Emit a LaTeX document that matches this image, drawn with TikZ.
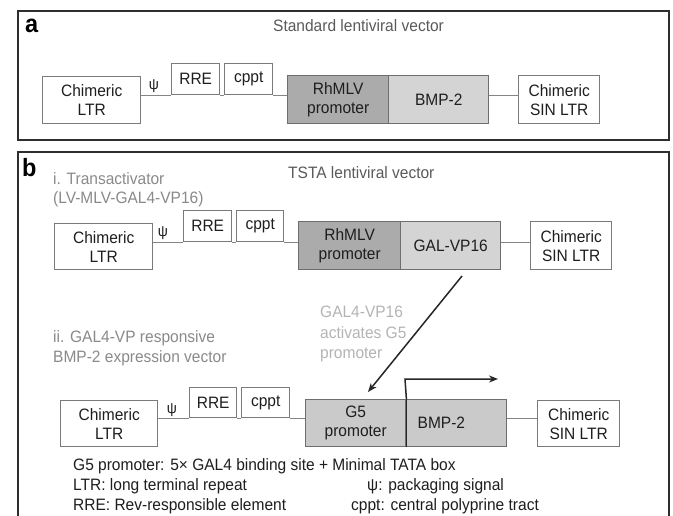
\documentclass[tikz,border=0pt]{standalone}
\usepackage{fontspec}
\setmainfont{Liberation Sans}[FakeStretch=0.94]
\usetikzlibrary{arrows.meta}
\definecolor{framec}{HTML}{2E2E2E}
\definecolor{boxc}{HTML}{7A7A7A}
\definecolor{linec}{HTML}{858585}
\definecolor{darkfill}{HTML}{ABABAB}
\definecolor{lightfill}{HTML}{D4D4D4}
\definecolor{midfill}{HTML}{CACACA}
\definecolor{titlec}{HTML}{5A5A5A}
\definecolor{subc}{HTML}{8A8A8A}
\definecolor{faintc}{HTML}{B4B4B4}
\definecolor{txtc}{HTML}{1E1E1E}
\tikzset{
  panelframe/.style={draw=framec, line width=2.6pt},
  elem/.style={draw=boxc, line width=1.4pt, fill=white, align=center, inner sep=0pt,
    anchor=north west, text=txtc, font=\fontsize{16.5}{19}\selectfont},
  sz/.style 2 args={minimum width=#1, minimum height=#2},
  darkel/.style={elem, fill=darkfill, draw=boxc!90!black},
  lightel/.style={elem, fill=lightfill, draw=boxc!90!black},
  midel/.style={elem, fill=midfill, draw=boxc!90!black},
  wire/.style={draw=linec, line width=1.6pt},
  psilbl/.style={text=txtc, font=\fontsize{15}{18}\selectfont, inner sep=0pt},
  titletxt/.style={text=titlec, anchor=base west, inner sep=0pt, font=\fontsize{16.5}{19}\selectfont},
  subtxt/.style={text=subc, anchor=base west, inner sep=0pt, font=\fontsize{16.5}{19}\selectfont},
  fainttxt/.style={text=faintc, anchor=base west, inner sep=0pt, font=\fontsize{16.5}{19}\selectfont},
  legtxt/.style={text=txtc, anchor=base west, inner sep=0pt, font=\fontsize{16.5}{19}\selectfont},
  panellbl/.style={text=black, anchor=base west, inner sep=0pt, font=\fontsize{25}{28}\selectfont\bfseries},
  actarrow/.style={draw=black!85, line width=1.5pt, -{Stealth[length=9pt,width=7pt]}},
}
\begin{document}
\begin{tikzpicture}[x=1pt,y=-1pt]
\useasboundingbox (0,0) rectangle (673,516);
\fill[white] (0,0) rectangle (673,516);

% ---------- panel a ----------
\draw[panelframe] (18,11) rectangle (669,140);
\node[panellbl] (la) at (25,33) {a};
\node[titletxt] (ta) at (273,32) {Standard lentiviral vector};

\node[elem, sz={98}{47}] (ltrA) at (42,76) {Chimeric\\LTR};
\node[elem, sz={48}{31}] (rreA) at (171,63) {RRE};
\node[elem, sz={48}{31}] (cpptA) at (224,63) {cppt};
\node[darkel, sz={101}{48}] (promA) at (287,75) {RhMLV\\promoter};
\node[lightel, sz={100}{48}] (bmpA) at (388,75) {BMP-2};
\node[elem, sz={81}{48}] (sinA) at (518,75) {Chimeric\\SIN LTR};
\node[psilbl] (psiA) at (154,86) {ψ};
\draw[wire] (ltrA.east |- rreA.south) -- (rreA.south west);
\draw[wire] (rreA.south east) -- (cpptA.south west);
\draw[wire] (cpptA.south east) -- (promA.west |- cpptA.south);
\draw[wire] (bmpA.east |- cpptA.south) -- (sinA.west |- cpptA.south);

% ---------- panel b ----------
\draw[panelframe] (18,530) -- (18,152) -- (669,152) -- (669,530);
\node[panellbl] (lb) at (22,177) {b};
\node[titletxt] (tb) at (288,179) {TSTA lentiviral vector};
\node[subtxt] (s1) at (53,185) {i. Transactivator};
\node[subtxt] (s2) at (53,204) {(LV-MLV-GAL4-VP16)};

\node[elem, sz={98}{46}] (ltrB) at (54,223) {Chimeric\\LTR};
\node[elem, sz={48}{31}] (rreB) at (183,210) {RRE};
\node[elem, sz={47}{31}] (cpptB) at (236,210) {cppt};
\node[darkel, sz={102}{48}] (promB) at (298,221) {RhMLV\\promoter};
\node[lightel, sz={100}{48}] (galB) at (400,221) {GAL-VP16};
\node[elem, sz={81}{48}] (sinB) at (530,221) {Chimeric\\SIN LTR};
\node[psilbl] (psiB) at (163,233) {ψ};
\draw[wire] (ltrB.east |- rreB.south) -- (rreB.south west);
\draw[wire] (rreB.south east) -- (cpptB.south west);
\draw[wire] (cpptB.south east) -- (promB.west |- cpptB.south);
\draw[wire] (galB.east |- cpptB.south) -- (sinB.west |- cpptB.south);

% activation text and arrow
\node[fainttxt] (f1) at (320,317) {GAL4-VP16};
\node[fainttxt] (f2) at (320,338) {activates G5};
\node[fainttxt] (f3) at (320,359) {promoter};
\coordinate (dS) at (462,276);
\coordinate (dE) at (368,392);
\draw[actarrow] (dS) -- (dE);

\node[subtxt] (s3) at (53,342) {ii. GAL4-VP responsive};
\node[subtxt] (s4) at (53,362) {BMP-2 expression vector};

\node[elem, sz={97}{46}] (ltrC) at (60,400) {Chimeric\\LTR};
\node[elem, sz={47}{30}] (rreC) at (189,387) {RRE};
\node[elem, sz={48}{30}] (cpptC) at (241,387) {cppt};
\node[midel, sz={100}{47}] (g5C) at (305,399) {G5\\promoter};
\node[midel, sz={101}{47}, text width=77, align=left, inner xsep=12] (bmpC) at (405,399) {BMP-2};
\node[elem, sz={82}{46}] (sinC) at (537,400) {Chimeric\\SIN LTR};
\node[psilbl] (psiC) at (172,410) {ψ};
\draw[wire] (ltrC.east |- rreC.south) -- (rreC.south west);
\draw[wire] (rreC.south east) -- (cpptC.south west);
\draw[wire] (cpptC.south east) -- (g5C.west |- cpptC.south);
\draw[wire] (bmpC.east |- cpptC.south) -- (sinC.west |- cpptC.south);

% transcription start arrow
\coordinate (tss) at (405,379);
\coordinate (tssE) at (498,379);
\draw[draw=black!85, line width=1.5pt] (g5C.south east) -- (g5C.north east);
\draw[actarrow] (g5C.north east) -- (tss) -- (tssE);

% legend
\node[legtxt] (lg1) at (73,470) {G5 promoter: 5\texttimes{} GAL4 binding site + Minimal TATA box};
\node[legtxt] (lg2) at (73,490) {LTR: long terminal repeat};
\node[legtxt] (lg3) at (73,510) {RRE: Rev-responsible element};
\node[legtxt] (lg4) at (367,490) {ψ: packaging signal};
\node[legtxt] (lg5) at (351,510) {cppt: central polyprine tract};
\end{tikzpicture}
\end{document}
